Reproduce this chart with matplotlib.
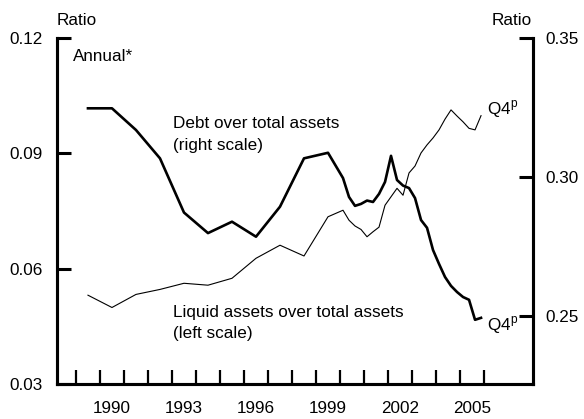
import matplotlib
matplotlib.use("Agg")
import matplotlib.pyplot as plt
import numpy as np

plt.rcParams['font.family'] = ['Liberation Sans', 'DejaVu Sans']
plt.rcParams['mathtext.fontset'] = 'custom'
plt.rcParams['mathtext.rm'] = 'Liberation Sans'

# ---- data ----
annual_years = [1989, 1990, 1991, 1992, 1993, 1994, 1995, 1996, 1997, 1998, 1999]
debt_annual = [0.3247, 0.3247, 0.3169, 0.3067, 0.2872, 0.2798, 0.2839, 0.2785, 0.2893, 0.3067, 0.3087]
liquid_annual = [0.0531, 0.0499, 0.0533, 0.0546, 0.0562, 0.0557, 0.0575, 0.0627, 0.0661, 0.0633, 0.0735]

q_years = [2000]*4 + [2001]*4 + [2002]*4 + [2003]*4 + [2004]*4 + [2005]*4
q_quarters = [1, 2, 3, 4] * 6
debt_quarterly = [0.2996, 0.2928, 0.2896, 0.2903,
                  0.2915, 0.2910, 0.2939, 0.2982,
                  0.3076, 0.2989, 0.2969, 0.2960,
                  0.2924, 0.2845, 0.2817, 0.2737,
                  0.2687, 0.2640, 0.2608, 0.2586,
                  0.2568, 0.2558, 0.2486, 0.2493]
liquid_quarterly = [0.0752, 0.0726, 0.0711, 0.0702,
                    0.0683, 0.0696, 0.0708, 0.0765,
                    0.0787, 0.0809, 0.0791, 0.0849,
                    0.0867, 0.0901, 0.0922, 0.0940,
                    0.0961, 0.0989, 0.1013, 0.0997,
                    0.0982, 0.0965, 0.0961, 0.0998]

year_ticks = list(range(1989, 2007))
label_years = [1990, 1993, 1996, 1999, 2002, 2005]
left_ticks = [0.03, 0.06, 0.09, 0.12]
right_ticks = [0.25, 0.30, 0.35]

# positions: annual at mid-year, quarterly at mid-quarter
x_annual = np.array(annual_years) + 0.5
x_quarterly = np.array(q_years) + (np.array(q_quarters) - 0.5) / 4.0
x_all = np.concatenate([x_annual, x_quarterly])
debt_all = np.concatenate([debt_annual, debt_quarterly])
liquid_all = np.concatenate([liquid_annual, liquid_quarterly])

W, H = 584, 419
fig = plt.figure(figsize=(W / 100, H / 100), dpi=100)
ax = fig.add_axes([57 / W, 1 - 384 / H, (533 - 57) / W, (384 - 38) / H])
ax2 = ax.twinx()

ax.plot(x_all, liquid_all, color='black', lw=0.8)
ax2.plot(x_all, debt_all, color='black', lw=1.9)

ax.set_xlim(1988.21, 2008.04)
ax.set_ylim(0.03, 0.12)
ax2.set_ylim(0.2255, 0.35)

for a in (ax, ax2):
    a.spines['top'].set_visible(False)
    for s in ('left', 'right', 'bottom'):
        a.spines[s].set_linewidth(2.2)

ax.set_xticks(year_ticks)
ax.set_xticklabels([])
ax.set_xticks([y + 0.5 for y in label_years], minor=True)
ax.set_xticklabels([str(y) for y in label_years], minor=True)
ax.tick_params(axis='x', which='major', direction='in', length=10, width=1.6)
ax.tick_params(axis='x', which='minor', length=0, pad=12, labelsize=12.3)

ax.set_yticks(left_ticks)
ax.set_yticklabels(['%.2f' % v for v in left_ticks])
ax.tick_params(axis='y', which='major', direction='in', length=10, width=2.2,
               pad=10, labelsize=12.3)
ax.set_yticks([left_ticks[-1]], minor=True)
ax.tick_params(axis='y', which='minor', direction='in', length=21, width=2.2)

ax2.set_yticks(right_ticks)
ax2.set_yticklabels(['%.2f' % v for v in right_ticks])
ax2.tick_params(axis='y', which='major', direction='in', length=10, width=2.2,
                pad=9, labelsize=12.3)
ax2.set_yticks([right_ticks[-1]], minor=True)
ax2.tick_params(axis='y', which='minor', direction='in', length=21, width=2.2)

fs = 12.3
def ftext(x, y, s, **kw):
    fig.text(x / W, 1 - y / H, s, fontsize=fs, va='baseline', **kw)

ftext(57, 25, 'Ratio', ha='left')
ftext(532, 25, 'Ratio', ha='right')
ftext(73, 60.5, 'Annual*', ha='left')
ftext(173, 127.5, 'Debt over total assets', ha='left')
ftext(173, 150, '(right scale)', ha='left')
ftext(173, 316.5, 'Liquid assets over total assets', ha='left')
ftext(173, 338, '(left scale)', ha='left')
ftext(487, 114, r'Q4$^{\mathrm{p}}$', ha='left')
ftext(487, 330, r'Q4$^{\mathrm{p}}$', ha='left')

fig.savefig('out.png', dpi=100)
